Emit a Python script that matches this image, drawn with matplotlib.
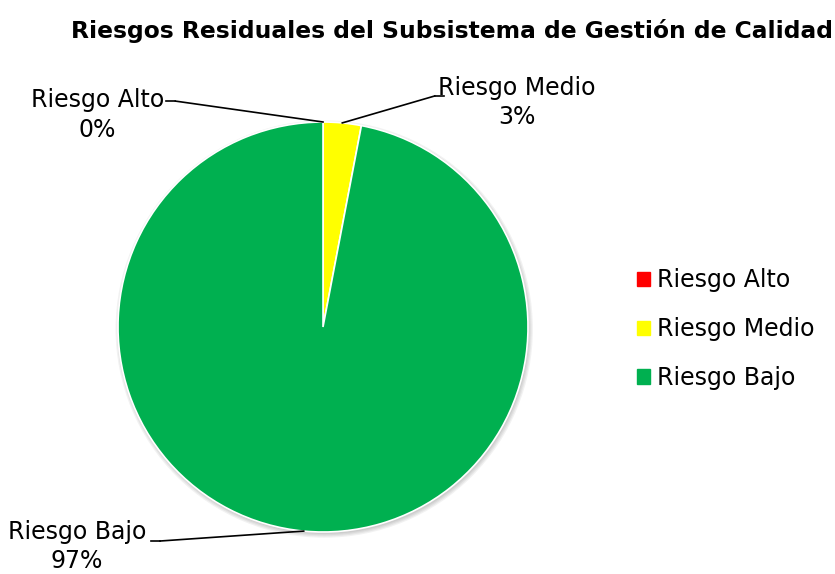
import numpy as np
import matplotlib.pyplot as plt
from matplotlib.patches import Circle

categorias = ['Riesgo Alto', 'Riesgo Medio', 'Riesgo Bajo']
porcentajes = [0, 3, 97]
colores = ['#FF0000', '#FFFF00', '#00B050']

# posiciones de las etiquetas (coordenadas del eje, radio = 1)
pos_etiquetas = [(-1.10, 1.035), (0.946, 1.095), (-1.20, -1.07)]
# codo de la línea guía junto a cada etiqueta
codos = [(-0.72, 1.102), (0.545, 1.127), (-0.795, -1.044)]

W, H = 835, 574
fig = plt.figure(figsize=(W / 100, H / 100), dpi=100)
plt.rcParams['font.family'] = ['DejaVu Sans']

fig.text(452 / W, 1 - 31 / H, 'Riesgos Residuales del Subsistema de Gestión de Calidad',
         ha='center', va='center', fontsize=16.8, fontweight='bold')

ax = fig.add_axes([118 / W, 42 / H, 410 / W, 410 / H])

# sombra suave bajo el círculo
for i in range(4):
    ax.add_patch(Circle((0.006, -0.010), 1.0 + 0.006 * i, color='black',
                        alpha=0.05, zorder=0, lw=0, clip_on=False))

wedges, _ = ax.pie(porcentajes, colors=colores, startangle=90, counterclock=False,
                   radius=1, wedgeprops=dict(edgecolor='white', linewidth=1.2))
ax.set_xlim(-1, 1)
ax.set_ylim(-1, 1)
ax.set_aspect('equal')
ax.axis('off')
for w in wedges:
    w.set_clip_on(False)

for w, nombre, v, (tx, ty), (cx, cy) in zip(wedges, categorias, porcentajes,
                                           pos_etiquetas, codos):
    ang = np.deg2rad((w.theta1 + w.theta2) / 2)
    px, py = np.cos(ang), np.sin(ang)
    ax.plot([px, cx], [py, cy], color='black', lw=1.2, clip_on=False)
    ax.plot([cx, cx + (0.045 if cx > 0 else -0.045)], [cy, cy], color='black',
            lw=1.2, clip_on=False)
    ax.text(tx, ty, f'{nombre}\n{v}%', ha='center', va='center', fontsize=17,
            linespacing=1.3, clip_on=False)

handles = [plt.Rectangle((0, 0), 1, 1, color=c) for c in colores]
fig.legend(handles, categorias, loc='center left', bbox_to_anchor=(616 / W, 1 - 329 / H),
           frameon=False, fontsize=17, handlelength=0.55, handleheight=0.55,
           handletextpad=0.3, labelspacing=1.05)

fig.savefig('out.png', dpi=100)
